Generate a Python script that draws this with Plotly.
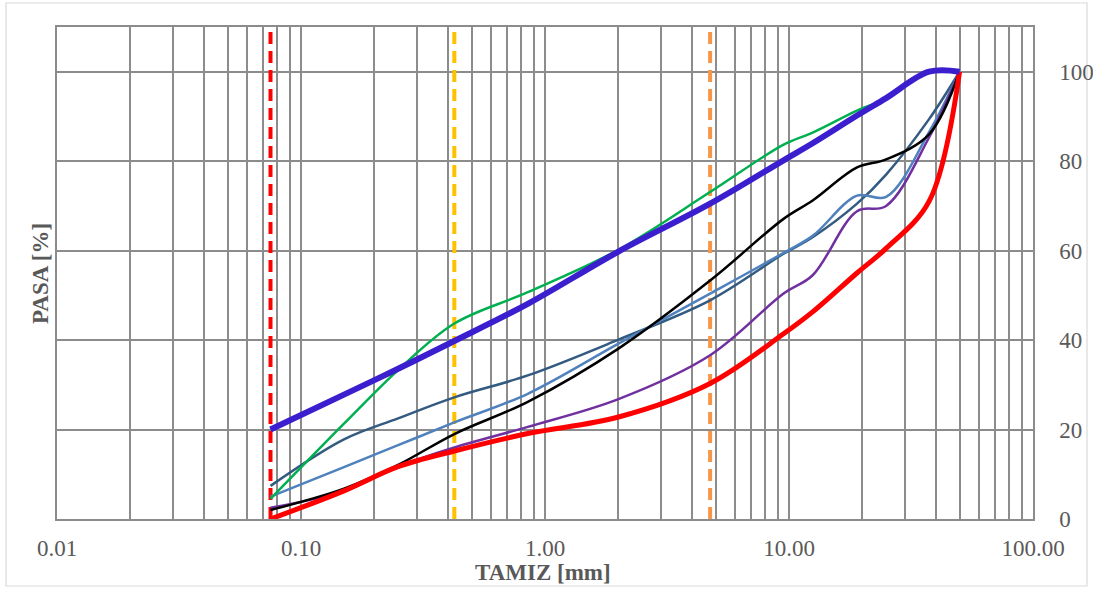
import plotly.graph_objects as go

# ---------------- data ----------------
sieves = [0.075, 0.15, 0.25, 0.425, 0.85, 2.0, 4.75, 9.5, 12.5, 19, 25, 37.5, 50]

upper_limit = [20, 27.8, 33.6, 39.8, 48.1, 59.8, 70.5, 80.2, 84.0, 90.2, 94.1, 100, 100]
green_curve = [4.5, 21.3, 33.3, 43.7, 50.7, 60.2, 73.1, 83.7, 86.4, 91.3, 94.0, 100, 100]
darkblue_curve = [7.4, 17.8, 22.5, 27.2, 32.1, 40.1, 48.9, 59.3, 63.0, 70.5, 77.0, 89.4, 100]
lightblue_curve = [5.0, 11.6, 16.5, 21.6, 28.0, 39.2, 50.4, 59.5, 63.3, 72.3, 72.0, 86.5, 100]
purple_curve = [2.5, 6.3, 11.7, 16.0, 20.6, 26.8, 36.6, 50.4, 54.5, 68.8, 70.0, 85.3, 100]
black_curve = [2.0, 6.8, 12.1, 19.0, 26.2, 38.1, 53.3, 67.1, 71.2, 78.6, 80.4, 86.0, 100]
lower_limit = [0, 6.3, 11.7, 15.2, 19.1, 22.8, 30.3, 41.4, 46.3, 55.0, 60.5, 71.0, 100]

vertical_sizes = [0.075, 0.425, 4.75]
vertical_span = [0, 110]

x_tick_labels = ["0.01", "0.10", "1.00", "10.00", "100.00"]
y_tick_values = [0, 20, 40, 60, 80, 100]

# ---------------- figure ----------------
fig = go.Figure()

vcolors = ["#ff0000", "#ffc000", "#f79646"]
for xv, c in zip(vertical_sizes, vcolors):
    fig.add_trace(go.Scatter(x=[xv, xv], y=vertical_span, mode="lines",
                             line=dict(color=c, width=4, dash="12px,7px"),
                             hoverinfo="skip", showlegend=False))

series = [
    (darkblue_curve, "#335a80", 2.5),
    (lightblue_curve, "#4f81bd", 2.5),
    (purple_curve, "#7030a0", 2.5),
    (black_curve, "#000000", 2.5),
    (green_curve, "#00b050", 2.5),
    (lower_limit, "#ff0000", 5),
    (upper_limit, "#3b1fcf", 6),
]
for ys, c, w in series:
    fig.add_trace(go.Scatter(x=sieves, y=ys, mode="lines",
                             line=dict(color=c, width=w, shape="spline", smoothing=1.0),
                             showlegend=False))

# log grid: every digit in each decade
grid_vals = []
grid_text = []
for e in range(-2, 2):
    for d in range(1, 10):
        v = d * 10 ** e
        grid_vals.append(v)
        grid_text.append(x_tick_labels[e + 2] if d == 1 else "")
grid_vals.append(100)
grid_text.append(x_tick_labels[4])

gridc = "#8c8c8c"
tickfont = dict(family="Liberation Serif", size=23, color="#595959")

fig.update_xaxes(type="log", range=[-2, 2], tickvals=grid_vals, ticktext=grid_text,
                 showgrid=True, gridcolor=gridc, gridwidth=1.5,
                 showline=True, linecolor=gridc, linewidth=1.5, mirror=True,
                 zeroline=False, ticks="", tickfont=tickfont, ticklabelstandoff=8,
                 automargin=False)
fig.update_yaxes(range=[0, 110], tickvals=y_tick_values, side="right",
                 showgrid=True, gridcolor=gridc, gridwidth=1.5,
                 showline=True, linecolor=gridc, linewidth=1.5, mirror=True,
                 zeroline=False, ticks="", tickfont=tickfont, ticklabelstandoff=20,
                 automargin=False)

L, R, T, B = 57, 60, 27, 70
W, H = 1093, 589
pw, ph = W - L - R, H - T - B

def px(xp):
    return (xp - L) / pw

def py(yp):
    return (H - B - yp) / ph

titlefont = dict(family="Liberation Serif", size=23, color="#595959")
fig.add_annotation(text="<b>TAMIZ [mm]</b>", xref="paper", yref="paper",
                   x=px(543), y=py(572), showarrow=False, font=titlefont,
                   xanchor="center", yanchor="middle")
fig.add_annotation(text="<b>PASA [%]</b>", xref="paper", yref="paper",
                   x=px(40), y=py(274), showarrow=False, font=titlefont,
                   textangle=-90, xanchor="center", yanchor="middle")

fig.add_shape(type="rect", xref="paper", yref="paper",
              x0=px(6), x1=px(1087), y0=py(586), y1=py(3),
              line=dict(color="#d9d9d9", width=1.2), layer="below")

fig.update_layout(width=W, height=H, margin=dict(l=L, r=R, t=T, b=B, autoexpand=False),
                  plot_bgcolor="white", paper_bgcolor="white")

fig.write_html("out.html")
